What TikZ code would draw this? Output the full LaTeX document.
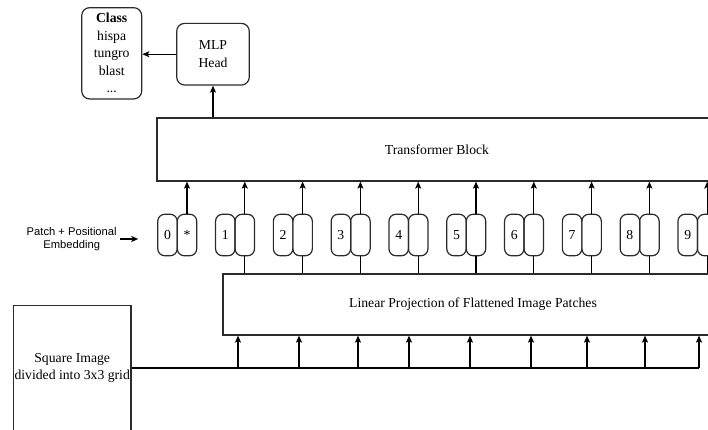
\documentclass[tikz,border=0pt]{standalone}
\usepackage{fontspec}
\setmainfont{Liberation Serif}
\setsansfont{Liberation Sans}
\usetikzlibrary{positioning,arrows.meta}
\definecolor{vitgray}{HTML}{2B2B2B}
\newcommand{\vitfont}{\fontsize{13.7}{17.5}\selectfont}
\tikzset{
    every edge/.style={draw,-{Stealth[length=7pt,width=6pt,inset=1.5pt]},line width=1.2pt},
    plain/.style={draw,line width=1.2pt},
    block/.style={draw=vitgray,line width=1.2pt,inner sep=0pt,font=\vitfont,align=center},
    head/.style={block,rounded corners=8pt},
    pill/.style={block,rounded corners=7pt,minimum width=19.5pt,minimum height=41.5pt},
    note/.style={font=\sffamily\fontsize{11.2}{12.5}\selectfont,align=center},
}

\begin{document}
\begin{tikzpicture}[x=1pt,y=-1pt]
    \useasboundingbox (0,0) rectangle (708,429);
    \clip (0,0) rectangle (708,429);
    \node[head,minimum width=60pt,minimum height=91.3pt] (cls) at (111.7,53.3) {\textbf{Class}\\hispa\\tungro\\blast\\...};
    \node[head,minimum width=72.6pt,minimum height=61.7pt] (mlp) at (213,54.2) {MLP\\Head};
    \node[block,minimum width=560pt,minimum height=63pt] (tb) at (437,149.5) {Transformer Block};
    \node[block,minimum width=500pt,minimum height=61pt] (lp) at (473,304.5) {Linear Projection of Flattened Image Patches};
    \node[block,minimum width=117.7pt,minimum height=124.6pt] (img) at (72.2,368) {Square Image\\divided into 3x3 grid};
    \node[note] (pe) at (71.7,239) {Patch + Positional\\Embedding};
    \coordinate[right=18pt of pe] (peend);

    % tokens: class token first, then one per patch
    \foreach \i in {0,...,9} {
        \node[pill] (tok\i) at ({187+57.8*\i},235) {\ifnum\i=0 *\fi};
        \node[pill,left=-1.2pt of tok\i] (num\i) {\i};
    }

    \path
    (mlp.west) edge (mlp.west -| cls.east)
    (tb.north -| mlp.south) edge (mlp.south)
    (pe) edge (peend);

    \foreach \i in {0,...,9}
        \path (tok\i.north) edge (tok\i.north |- tb.south);
    \foreach \i in {1,...,9}
        \draw[plain] (tok\i.south) -- (tok\i.south |- lp.north);

    % patches fed into the projection
    \foreach \x [count=\k] in {238,299,358,409,470,531,587,645,699} {
        \coordinate (bus\k) at (\x,368);
        \path (bus\k) edge (bus\k |- lp.south);
    }
    \draw[plain] (img.east) -- (bus9);
\end{tikzpicture}
\end{document}
